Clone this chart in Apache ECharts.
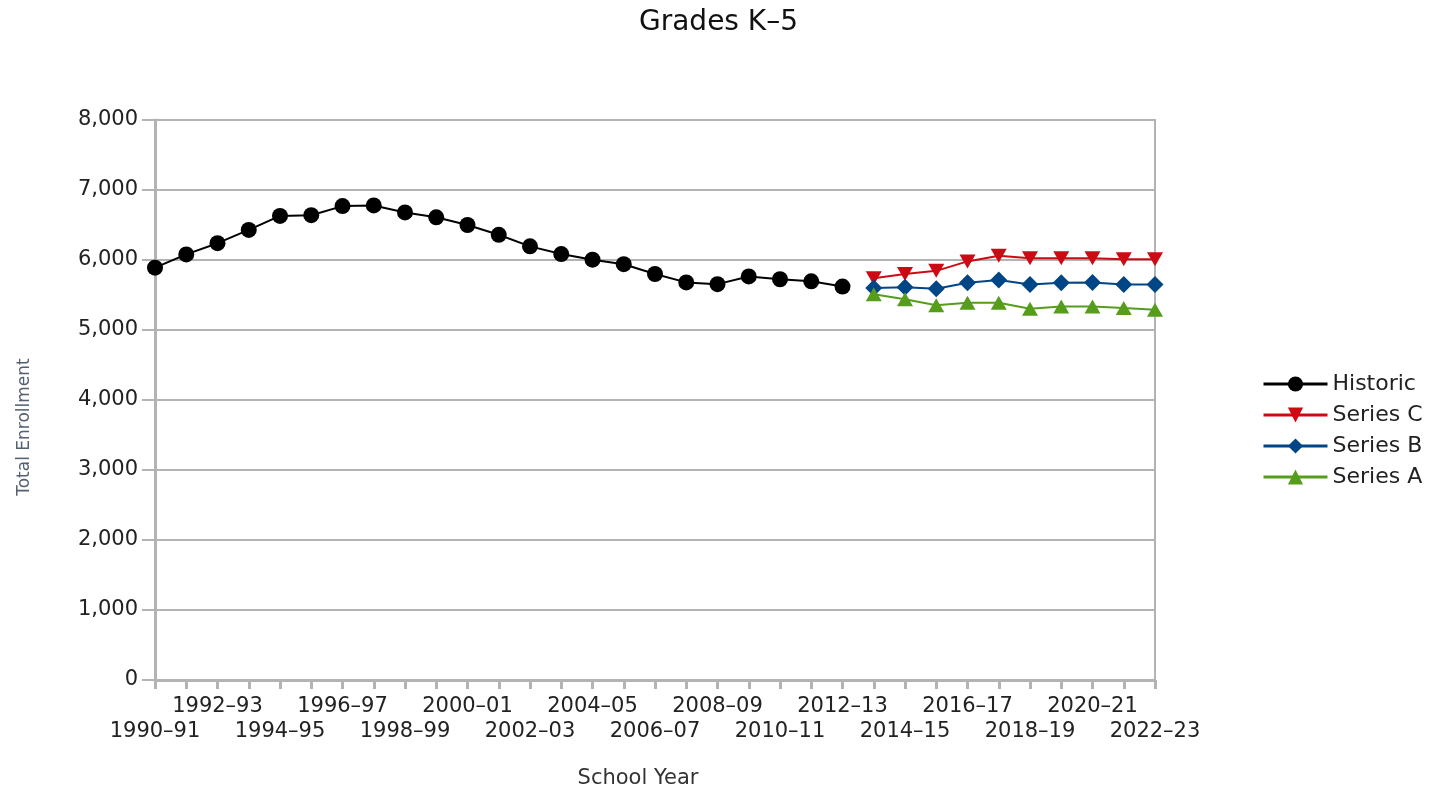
<!DOCTYPE html>
<html>
<head>
<meta charset="utf-8">
<script src="https://cdn.jsdelivr.net/npm/echarts@6/dist/echarts.min.js"></script>
<style>
html,body{margin:0;padding:0;background:#fff;}
#chart{width:1437px;height:788px;}
</style>
</head>
<body>
<div id="chart"></div>
<script>
var categories = ['1990–91','1991–92','1992–93','1993–94','1994–95','1995–96','1996–97','1997–98','1998–99','1999–00','2000–01','2001–02','2002–03','2003–04','2004–05','2005–06','2006–07','2007–08','2008–09','2009–10','2010–11','2011–12','2012–13','2013–14','2014–15','2015–16','2016–17','2017–18','2018–19','2019–20','2020–21','2021–22','2022–23'];
var historic = [5890,6080,6240,6430,6630,6640,6770,6780,6680,6610,6500,6360,6195,6085,6005,5940,5800,5680,5655,5765,5725,5695,5620,null,null,null,null,null,null,null,null,null,null];
var seriesC = [null,null,null,null,null,null,null,null,null,null,null,null,null,null,null,null,null,null,null,null,null,null,null,5740,5800,5845,5980,6060,6025,6025,6025,6010,6010];
var seriesB = [null,null,null,null,null,null,null,null,null,null,null,null,null,null,null,null,null,null,null,null,null,null,null,5600,5610,5590,5675,5715,5650,5675,5680,5650,5650];
var seriesA = [null,null,null,null,null,null,null,null,null,null,null,null,null,null,null,null,null,null,null,null,null,null,null,5510,5440,5355,5390,5390,5305,5335,5335,5315,5290];
var seriesNames = ['Historic','Series C','Series B','Series A'];
var yTicks = {min:0, max:8000, interval:1000};

var FONT = 'DejaVu Sans';
var GRID_COLOR = '#b3b3b3';
var chart = echarts.init(document.getElementById('chart'));

function fmtComma(v){ return String(v).replace(/\B(?=(\d{3})+(?!\d))/g, ','); }

chart.setOption({
  animation: false,
  backgroundColor: '#fff',
  title: {
    text: 'Grades K–5', left: 'center', top: 4,
    textStyle: {fontFamily: FONT, fontSize: 28, fontWeight: 'normal', color: '#111'}
  },
  grid: {left:155, right:282, top:120, bottom:108, show:true, borderColor:GRID_COLOR, borderWidth:2, outerBoundsMode:'none', containLabel:false},
  legend: {
    orient: 'vertical', left: 1262, top: 373, padding: 0,
    itemWidth: 64, itemHeight: 19, itemGap: 9,
    lineStyle: {width: 3},
    data: seriesNames,
    textStyle: {fontFamily: FONT, fontSize: 22, color: '#222'}
  },
  xAxis: {
    type: 'category', data: categories, boundaryGap: false,
    axisLine: {lineStyle: {color: GRID_COLOR, width: 3}},
    axisTick: {show: true, interval: 0, length: 9, lineStyle: {color: GRID_COLOR, width: 3}},
    axisLabel: {
      interval: 0, margin: 14, fontFamily: FONT, fontSize: 21, color: '#222', lineHeight: 25,
      formatter: function(v, i){ if (i % 2) return ''; return (i % 4 === 0) ? '\n' + v : v; }
    },
    splitLine: {show: false}
  },
  yAxis: {
    type: 'value', min: yTicks.min, max: yTicks.max, interval: yTicks.interval,
    axisLine: {show: true, lineStyle: {color: GRID_COLOR, width: 3}},
    axisTick: {show: true, length: 13, lineStyle: {color: GRID_COLOR, width: 2}},
    axisLabel: {margin: 17, fontFamily: FONT, fontSize: 21, color: '#222', formatter: fmtComma},
    splitLine: {show: true, lineStyle: {color: GRID_COLOR, width: 2}}
  },
  graphic: [
    {type:'text', x:638, y:779, style:{text:'School Year', font:'21px "DejaVu Sans"', fill:'#333', align:'center', verticalAlign:'middle'}},
    {type:'text', x:25, y:427, rotation:Math.PI/2, style:{text:'Total Enrollment', font:'17px "DejaVu Sans"', fill:'#556070', align:'center', verticalAlign:'middle'}}
  ],
  series: [
    {name:'Historic', type:'line', data:historic, symbol:'circle', symbolSize:16, itemStyle:{color:'#000'}, lineStyle:{color:'#000', width:2}, connectNulls:false},
    {name:'Series C', type:'line', data:seriesC, symbol:'triangle', symbolRotate:180, symbolSize:[16,14], itemStyle:{color:'#cc0a14'}, lineStyle:{color:'#cc0a14', width:2}},
    {name:'Series B', type:'line', data:seriesB, symbol:'diamond', symbolSize:17, itemStyle:{color:'#004586'}, lineStyle:{color:'#004586', width:2}},
    {name:'Series A', type:'line', data:seriesA, symbol:'triangle', symbolSize:[16,14], itemStyle:{color:'#579d1c'}, lineStyle:{color:'#579d1c', width:2}}
  ]
});
</script>
</body>
</html>
